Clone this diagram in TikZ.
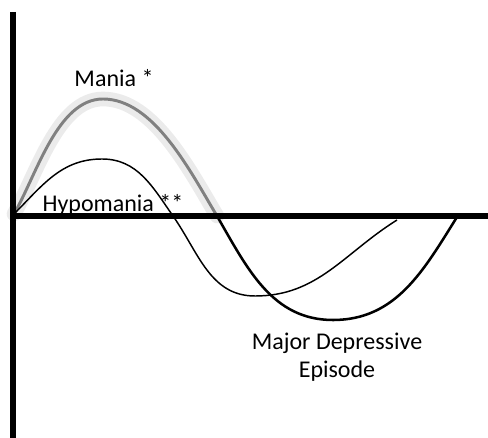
\documentclass[tikz,border=0pt]{standalone}
\usepackage{fontspec}
\setmainfont{Carlito}
\usetikzlibrary{positioning}

\begin{document}
\begin{tikzpicture}[
  x=0.75pt,y=0.75pt,
  axis/.style={line width=4.5pt},
  glow/.style={line width=11pt,color=black!8,line cap=round},
  maniawave/.style={line width=2.2pt,color=black!50},
  hypowave/.style={line width=1.1pt},
  deprwave/.style={line width=1.9pt},
  lbl/.style={font=\fontsize{18}{21}\selectfont,inner sep=0pt,anchor=base,align=center}
]
  \useasboundingbox (0,0) rectangle (488,438);

  % Axes
  \coordinate (top)   at (13,426);
  \coordinate (bot)   at (13,0);
  \coordinate (left)  at (13,221.5);
  \coordinate (right) at (488,221.5);

  % Mania wave (grey with glow)
  \coordinate (m0) at (14,224);
  \coordinate (m1) at (103,339);
  \coordinate (m2) at (217,222);
  \draw[glow] (m0) to[out=60,in=180,looseness=0.8] (m1) to[out=0,in=121,looseness=0.8] (m2);
  \draw[maniawave] (m0) to[out=60,in=180,looseness=0.8] (m1) to[out=0,in=121,looseness=0.8] (m2);

  % Hypomania wave
  \coordinate (h1) at (102,279);
  \coordinate (h2) at (173,222);
  \coordinate (h3) at (255,142);
  \coordinate (h4) at (397,218);
  \draw[hypowave] (m0) to[out=45,in=180] (h1) to[out=0,in=125] (h2)
                  to[out=-55,in=180] (h3) to[out=0,in=212] (h4);

  % Major depressive wave
  \coordinate (d1) at (333,118);
  \coordinate (d2) at (457,221);
  \draw[deprwave] (m2) to[out=-60,in=180] (d1) to[out=0,in=238] (d2);

  \draw[axis] (top) -- (bot);
  \draw[axis] (left) -- (right);

  % Labels
  \node[lbl] (mania) at (114,351) {Mania *};
  \node[lbl] (hypo)  at (113,226) {Hypomania **};
  \node[lbl] (mde)   at (337,60)  {Major Depressive\\Episode};
\end{tikzpicture}
\end{document}
